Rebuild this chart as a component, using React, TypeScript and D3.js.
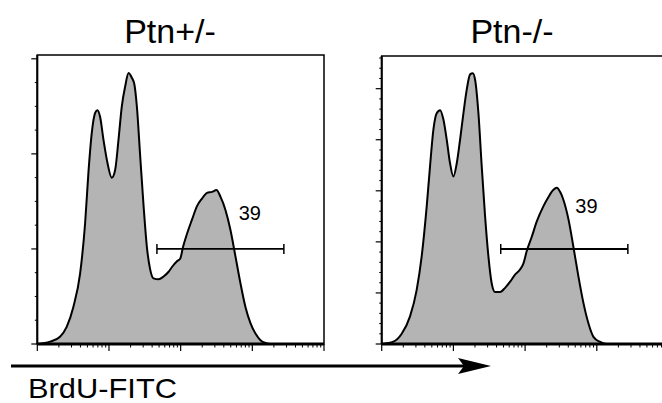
import React from "react";
import * as d3 from "d3";

// ---- Data (x in log decades of BrdU-FITC fluorescence, y = cell count) ----
const panelTitles = ["Ptn+/-", "Ptn-/-"];
const axisLabel = "BrdU-FITC";

const leftX = [0, 0.177, 0.317, 0.41, 0.503, 0.597, 0.667, 0.713, 0.76, 0.807, 0.839, 0.876, 0.923, 0.97, 1.04, 1.086, 1.133, 1.179, 1.226, 1.273, 1.319, 1.352, 1.389, 1.436, 1.483, 1.529, 1.576, 1.622, 1.692, 1.762, 1.832, 1.879, 1.949, 1.995, 2.033, 2.089, 2.159, 2.228, 2.298, 2.368, 2.438, 2.499, 2.555, 2.625, 2.695, 2.765, 2.834, 2.904, 2.974, 3.044, 3.114, 3.184, 3.254, 4];
const leftCount = [0, 2.5, 7.7, 18, 39, 74, 127, 180, 222, 243, 246, 239, 215, 194, 175, 183, 215, 250, 271, 285, 280, 274, 250, 197, 145, 102, 78, 69, 68, 71, 76, 81, 87, 90, 102, 116, 131, 145, 153, 159, 160, 162, 155, 141, 120, 92, 64, 39, 22, 11, 4, 1, 0, 0];

const rightX = [0, 0.163, 0.279, 0.395, 0.488, 0.558, 0.628, 0.674, 0.721, 0.767, 0.814, 0.86, 0.907, 0.953, 1.0, 1.047, 1.093, 1.14, 1.186, 1.233, 1.27, 1.302, 1.349, 1.395, 1.442, 1.488, 1.535, 1.581, 1.651, 1.721, 1.791, 1.86, 1.93, 1.977, 2.023, 2.093, 2.163, 2.256, 2.326, 2.395, 2.442, 2.488, 2.535, 2.605, 2.674, 2.744, 2.814, 2.884, 2.953, 3.047, 3.14, 4];
const rightCount = [0, 2.3, 10, 27, 53, 86, 135, 174, 210, 226, 229, 220, 200, 177, 164, 177, 200, 226, 249, 264, 265, 259, 226, 174, 125, 86, 59, 51, 51, 55, 61, 68, 73, 79, 91, 105, 120, 135, 144, 151, 153, 149, 141, 122, 95, 66, 40, 20, 7, 2, 0, 0];

// gate [from, to] in decades, level in counts, percentage label
const leftGate = [1.669, 3.44];
const leftGateLevel = 100;
const rightGate = [1.66, 3.433];
const rightGateLevel = 93;
const gateLabels = ["39", "39"];
const gateLabelPosLeft = [2.81, 130];
const gateLabelPosRight = [2.7, 128];

const xDecades = [0, 1, 2, 3, 4];
const leftYMajor = [0, 100, 200, 300];
const leftYMinorStep = 25;
const leftYMax = 304;
const rightYMajor = [0, 50, 100, 150, 200, 250];
const rightYMinorStep = 10;
const rightYMax = 282;

const FONT = "'Liberation Sans', Arial, Helvetica, sans-serif";
const FILL = "#b4b4b4";

type PanelProps = {
  xs: number[];
  ys: number[];
  x0: number;
  x1: number;
  yTop: number;
  yBottom: number;
  yMax: number;
  yMajor: number[];
  yMinorStep: number;
  gate: number[];
  gateLevel: number;
  gateLabel: string;
  labelPos: number[];
  title: string;
  titleX: number;
};

function Panel(p: PanelProps) {
  const x = d3.scaleLinear().domain([0, 4]).range([p.x0, p.x1]);
  const y = d3.scaleLinear().domain([0, p.yMax]).range([p.yBottom, p.yTop]);
  const pts = p.xs.map((v, i) => [v, p.ys[i]] as [number, number]);
  const area = d3
    .area<[number, number]>()
    .x((d) => x(d[0]))
    .y0(y(0))
    .y1((d) => y(d[1]))
    .curve(d3.curveMonotoneX);
  const line = d3
    .line<[number, number]>()
    .x((d) => x(d[0]))
    .y((d) => y(d[1]))
    .curve(d3.curveMonotoneX);

  const minorX: number[] = [];
  for (let d = 0; d < 4; d++) for (let k = 2; k <= 9; k++) minorX.push(d + Math.log10(k));
  const minorY: number[] = [];
  for (let v = 0; v <= p.yMax; v += p.yMinorStep) if (!p.yMajor.includes(v)) minorY.push(v);

  const gy = y(p.gateLevel);
  return (
    <g>
      <text x={p.titleX} y={43} textAnchor="middle" fontFamily={FONT} fontSize={34}>
        {p.title}
      </text>
      <path d={area(pts) || ""} fill={FILL} />
      <path d={line(pts) || ""} fill="none" stroke="#000" strokeWidth={2} strokeLinejoin="round" />
      {/* frame */}
      <rect x={p.x0} y={p.yTop} width={p.x1 - p.x0} height={p.yBottom - p.yTop} fill="none" stroke="#000" strokeWidth={1.5} />
      <line x1={p.x0} x2={p.x1} y1={p.yBottom} y2={p.yBottom} stroke="#000" strokeWidth={3} />
      <line x1={p.x0} x2={p.x0} y1={p.yTop} y2={p.yBottom} stroke="#000" strokeWidth={2} />
      {/* x ticks */}
      {xDecades.map((d) => (
        <line key={"xM" + d} x1={x(d)} x2={x(d)} y1={p.yBottom} y2={p.yBottom + 7} stroke="#000" strokeWidth={1.2} />
      ))}
      {minorX.map((d, i) => (
        <line key={"xm" + i} x1={x(d)} x2={x(d)} y1={p.yBottom} y2={p.yBottom + 3.5} stroke="#000" strokeWidth={1} />
      ))}
      {/* y ticks */}
      {p.yMajor.map((v) => (
        <line key={"yM" + v} x1={p.x0 - 6} x2={p.x0} y1={y(v)} y2={y(v)} stroke="#000" strokeWidth={1.2} />
      ))}
      {minorY.map((v) => (
        <line key={"ym" + v} x1={p.x0 - 2.5} x2={p.x0} y1={y(v)} y2={y(v)} stroke="#000" strokeWidth={1} />
      ))}
      {/* gate */}
      <line x1={x(p.gate[0])} x2={x(p.gate[1])} y1={gy} y2={gy} stroke="#000" strokeWidth={1.8} />
      <line x1={x(p.gate[0])} x2={x(p.gate[0])} y1={gy - 5} y2={gy + 5} stroke="#000" strokeWidth={1.5} />
      <line x1={x(p.gate[1])} x2={x(p.gate[1])} y1={gy - 5} y2={gy + 5} stroke="#000" strokeWidth={1.5} />
      <text x={x(p.labelPos[0])} y={y(p.labelPos[1])} fontFamily={FONT} fontSize={20}>
        {p.gateLabel}
      </text>
    </g>
  );
}

export default function App() {
  return (
    <svg
      width={662}
      height={403}
      viewBox="0 0 662 403"
      style={{ position: "fixed", left: 0, top: 0, background: "#fff" }}
    >
      <rect width={662} height={403} fill="#fff" />
      <Panel
        xs={leftX}
        ys={leftCount}
        x0={37.3}
        x1={324}
        yTop={55}
        yBottom={344}
        yMax={leftYMax}
        yMajor={leftYMajor}
        yMinorStep={leftYMinorStep}
        gate={leftGate}
        gateLevel={leftGateLevel}
        gateLabel={gateLabels[0]}
        labelPos={gateLabelPosLeft}
        title={panelTitles[0]}
        titleX={170}
      />
      <Panel
        xs={rightX}
        ys={rightCount}
        x0={381.7}
        x1={668.5}
        yTop={56}
        yBottom={344}
        yMax={rightYMax}
        yMajor={rightYMajor}
        yMinorStep={rightYMinorStep}
        gate={rightGate}
        gateLevel={rightGateLevel}
        gateLabel={gateLabels[1]}
        labelPos={gateLabelPosRight}
        title={panelTitles[1]}
        titleX={512}
      />
      {/* arrow */}
      <line x1={11} x2={470} y1={366} y2={366} stroke="#000" strokeWidth={3} />
      <path d="M491,366 L458,358 L464,366 L458,374 Z" fill="#000" />
      <text x={28} y={398} fontFamily={FONT} fontSize={28} textLength={149} lengthAdjust="spacingAndGlyphs">
        {axisLabel}
      </text>
    </svg>
  );
}
